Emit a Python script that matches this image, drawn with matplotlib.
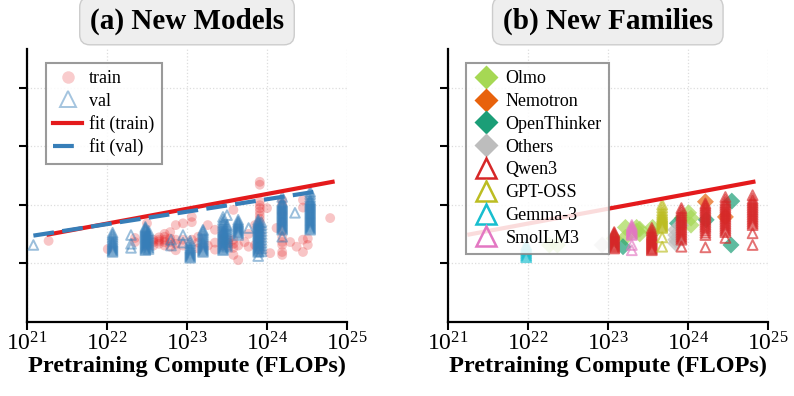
import numpy as np
import matplotlib
matplotlib.use("Agg")
import matplotlib.pyplot as plt
from matplotlib.lines import Line2D

plt.rcParams['font.family'] = ['Liberation Serif', 'DejaVu Serif']
plt.rcParams['mathtext.fontset'] = 'cm'

# --- panel (a): log10(compute) -> scores ---
train_cols = {
    21.27: [1.38],
    22.01: [1.24],
    22.35: [1.36, 1.43],
    22.50: [1.30, 1.68],
    22.58: [1.30, 1.36, 1.40],
    22.65: [1.33, 1.37, 1.40, 1.44],
    22.72: [1.30, 1.36, 1.40, 1.45, 1.50],
    22.79: [1.28, 1.36, 1.42, 1.53],
    22.86: [1.22, 1.33, 1.40, 1.65],
    22.95: [1.30, 1.40, 1.68],
    23.06: [1.40, 1.70, 1.79],
    23.14: [1.25, 1.35, 1.45],
    23.26: [1.30, 1.65],
    23.35: [1.23, 1.35, 1.57],
    23.45: [1.30, 1.40, 1.48],
    23.52: [1.28, 1.34, 1.40],
    23.58: [1.14, 1.26, 1.33, 1.40, 1.91],
    23.64: [1.05, 1.30],
    23.72: [1.36],
    23.77: [1.28, 1.50],
    23.85: [1.31, 1.65],
    23.91: [1.22, 1.30, 1.40, 1.50, 1.60, 1.70, 1.76, 1.82, 1.88, 1.94, 1.99, 2.05, 2.34, 2.39],
    24.00: [1.94],
    24.04: [1.17],
    24.12: [1.60],
    24.19: [1.14, 1.19, 1.31, 1.36, 1.45, 1.55, 1.70, 1.85, 2.00, 2.08],
    24.29: [1.36],
    24.37: [1.28],
    24.45: [1.19, 1.40, 1.95, 2.08],
    24.51: [1.31, 1.42],
    24.79: [1.77],
}

val_cols = {
    21.08: [1.31],
    22.07: [1.19, 1.21, 1.23, 1.25, 1.27, 1.29, 1.31, 1.33, 1.35, 1.37, 1.40, 1.43, 1.46, 1.49, 1.52],
    22.30: [1.26, 1.33, 1.48],
    22.48: [1.22, 1.24, 1.26, 1.28, 1.30, 1.32, 1.34, 1.36, 1.38, 1.40, 1.42, 1.44, 1.46,
            1.48, 1.50, 1.52, 1.54, 1.56, 1.58, 1.60, 1.62],
    22.52: [1.24, 1.27, 1.30, 1.33, 1.36, 1.39, 1.42, 1.45, 1.48, 1.51, 1.55],
    22.80: [1.30, 1.40],
    22.95: [1.35, 1.48],
    23.04: [1.09, 1.11, 1.13, 1.15, 1.17, 1.19, 1.21, 1.23, 1.25, 1.27, 1.30, 1.34, 1.38],
    23.20: [1.19, 1.21, 1.23, 1.25, 1.27, 1.29, 1.31, 1.33, 1.35, 1.37, 1.40, 1.43, 1.46,
            1.49, 1.52, 1.55, 1.57],
    23.45: [1.22, 1.24, 1.26, 1.28, 1.30, 1.32, 1.34, 1.36, 1.38, 1.40, 1.42, 1.44, 1.46,
            1.48, 1.50, 1.52, 1.54, 1.56, 1.58, 1.61, 1.64, 1.67, 1.70, 1.74, 1.79],
    23.50: [1.28, 1.31, 1.35, 1.38, 1.42, 1.46, 1.50, 1.54, 1.58, 1.62, 1.65, 1.82],
    23.64: [1.48, 1.51, 1.53, 1.55, 1.57, 1.59, 1.61, 1.63, 1.65, 1.67, 1.69, 1.71, 1.74],
    23.77: [1.60],
    23.89: [1.12, 1.19, 1.21, 1.23, 1.25, 1.27, 1.29, 1.31, 1.33, 1.35, 1.37, 1.39, 1.41,
            1.43, 1.45, 1.47, 1.49, 1.51, 1.53, 1.55, 1.57, 1.59, 1.61, 1.63, 1.65, 1.67,
            1.69, 1.71, 1.74],
    23.93: [1.20, 1.25, 1.30, 1.35, 1.40, 1.45, 1.50, 1.55, 1.60, 1.65, 1.70],
    24.19: [1.45, 1.57, 1.59, 1.61, 1.63, 1.65, 1.67, 1.69, 1.71, 1.73, 1.75, 1.77, 1.79,
            1.81, 1.83, 1.85, 1.87, 1.89, 1.91, 1.93, 1.95, 1.97, 1.99, 2.01, 2.03, 2.05, 2.13],
    24.35: [1.86],
    24.54: [1.57, 1.59, 1.61, 1.63, 1.65, 1.67, 1.69, 1.71, 1.73, 1.75, 1.77, 1.79, 1.81,
            1.83, 1.85, 1.87, 1.89, 1.91, 1.93, 1.95, 1.97, 1.99, 2.01, 2.03, 2.05, 2.07,
            2.09, 2.13, 2.18, 2.22],
}

fit_train_x = [21.27, 24.82]
fit_train_y = [1.49, 2.39]
fit_val_x = [21.08, 24.60]
fit_val_y = [1.47, 2.22]

# --- panel (b): new families ---
diamond_families = ['Olmo', 'Nemotron', 'OpenThinker', 'Others']
triangle_families = ['Qwen3', 'GPT-OSS', 'Gemma-3', 'SmolLM3']
family_colors = {
    'Olmo': '#a6d854', 'Nemotron': '#e8620c', 'OpenThinker': '#1b9e77',
    'Others': '#bdbdbd', 'Qwen3': '#d62728', 'GPT-OSS': '#bcbd22',
    'Gemma-3': '#17becf', 'SmolLM3': '#e377c2',
}
family_cols = {
    'Olmo': {22.27: [1.31], 22.37: [1.31], 23.08: [1.42], 23.22: [1.44, 1.61],
             23.36: [1.55, 1.61], 23.40: [1.50, 1.58], 23.56: [1.52, 1.61],
             23.93: [1.77], 24.01: [1.86], 24.04: [1.65, 1.77]},
    'Nemotron': {24.22: [2.05], 24.47: [1.79]},
    'OpenThinker': {23.19: [1.28], 23.87: [1.68], 24.23: [1.74], 24.54: [1.31],
                    24.55: [2.06]},
    'Others': {22.93: [1.31], 23.85: [1.34, 1.40, 1.48, 1.57], 23.91: [1.65]},
    'Qwen3': {23.08: [1.25, 1.27, 1.29, 1.31, 1.33, 1.35, 1.37, 1.39, 1.41, 1.43, 1.45,
                      1.47, 1.49, 1.51, 1.53],
              23.55: [1.22, 1.24, 1.26, 1.28, 1.30, 1.32, 1.34, 1.36, 1.38, 1.40, 1.42,
                      1.44, 1.46, 1.48, 1.50, 1.53, 1.56, 1.60],
              23.92: [1.28, 1.40, 1.43, 1.46, 1.49, 1.52, 1.55, 1.58, 1.61, 1.64, 1.67,
                      1.70, 1.73, 1.76, 1.79, 1.82, 1.86, 1.90, 1.94],
              24.22: [1.27, 1.48, 1.52, 1.56, 1.60, 1.63, 1.66, 1.69, 1.72, 1.75, 1.78,
                      1.81, 1.84, 1.87, 1.90, 1.93, 1.96, 1.99, 2.02],
              24.47: [1.43, 1.53, 1.56, 1.59, 1.62, 1.65, 1.68, 1.71, 1.74, 1.77, 1.80,
                      1.83, 1.86, 1.89, 1.92, 1.95, 1.98, 2.01, 2.04, 2.08, 2.13],
              24.81: [1.31, 1.51, 1.65, 1.68, 1.71, 1.74, 1.77, 1.80, 1.83, 1.86, 1.89,
                      1.92, 1.95, 1.98, 2.01, 2.04, 2.07, 2.10, 2.16]},
    'GPT-OSS': {23.68: [1.28, 1.44, 1.60, 1.62, 1.64, 1.66, 1.68, 1.70, 1.72, 1.74, 1.76,
                        1.78, 1.80, 1.83, 1.86, 1.90, 1.95, 2.00]},
    'Gemma-3': {21.98: [1.10, 1.13, 1.16, 1.19, 1.22, 1.25, 1.28, 1.31]},
    'SmolLM3': {23.30: [1.22, 1.31, 1.48, 1.50, 1.52, 1.54, 1.56, 1.58, 1.60, 1.62, 1.65]},
}


def flatten(cols):
    xs, ys = [], []
    for c, vals in cols.items():
        xs += [10 ** c] * len(vals)
        ys += vals
    return np.array(xs), np.array(ys)


def style_axes(ax, title):
    ax.set_xscale('log')
    ax.set_xlim(1e21, 1e25)
    ax.set_ylim(0, 4.66)
    ax.set_xticks([1e21, 1e22, 1e23, 1e24, 1e25])
    ax.minorticks_off()
    ax.set_yticks([1, 2, 3, 4])
    ax.set_yticklabels([])
    ax.tick_params(axis='both', length=6, width=1.5, labelsize=17)
    ax.tick_params(axis='x', pad=2)
    for s in ['top', 'right']:
        ax.spines[s].set_visible(False)
    for s in ['left', 'bottom']:
        ax.spines[s].set_linewidth(1.6)
    ax.grid(True, linestyle=':', color='#dddddd', linewidth=0.9)
    ax.set_axisbelow(True)
    ax.set_xlabel('Pretraining Compute (FLOPs)', fontsize=17.5, fontweight='bold', labelpad=0)
    ax.set_title(title, fontsize=21, fontweight='bold', pad=15,
                 bbox=dict(boxstyle='round,pad=0.35', facecolor='#eeeeee', edgecolor='#cccccc'))


fig = plt.figure(figsize=(7.94, 3.96), dpi=100)
ax1 = fig.add_axes([0.034, 0.188, 0.403, 0.688])
ax2 = fig.add_axes([0.564, 0.188, 0.403, 0.688])

red = '#e41a1c'
blue = '#377eb8'

# (a) New Models
tx, ty = flatten(train_cols)
ax1.scatter(tx, ty, s=50, color=red, alpha=0.25, edgecolors='none', zorder=2)
vx, vy = flatten(val_cols)
ax1.scatter(vx, vy, s=48, marker='^', facecolors='none', edgecolors=blue,
            linewidths=1.4, alpha=0.5, zorder=3)
ax1.plot([10 ** v for v in fit_train_x], fit_train_y, color=red, lw=3, zorder=4)
ax1.plot([10 ** v for v in fit_val_x], fit_val_y, color=blue, lw=3,
         dashes=(5, 2), zorder=5)
style_axes(ax1, '(a) New Models')
h1 = [
    Line2D([], [], ls='none', marker='o', markersize=9, color=red, alpha=0.22, markeredgecolor='none'),
    Line2D([], [], ls='none', marker='^', markersize=12, markerfacecolor='none',
           markeredgecolor=blue, markeredgewidth=1.4, alpha=0.45),
    Line2D([], [], color=red, lw=3),
    Line2D([], [], color=blue, lw=3, dashes=(5, 2)),
]
leg1 = ax1.legend(h1, ['train', 'val', 'fit (train)', 'fit (val)'], loc='upper left',
                  bbox_to_anchor=(0.059, 0.949), borderaxespad=0, fontsize=13,
                  fancybox=False, edgecolor='#888888', framealpha=0.85,
                  handlelength=1.6, handletextpad=0.4, labelspacing=0.3)
leg1.get_frame().set_linewidth(1.5)

# (b) New Families
ax2.plot([10 ** v for v in fit_train_x], fit_train_y, color=red, lw=3, zorder=4)
handles = []
for fam in diamond_families:
    fx, fy = flatten(family_cols[fam])
    ax2.scatter(fx, fy, s=75, marker='D', color=family_colors[fam], alpha=0.7,
                edgecolors='none', zorder=3)
    handles.append(Line2D([], [], ls='none', marker='D', markersize=12,
                          color=family_colors[fam], markeredgecolor='none'))
for fam in triangle_families:
    fx, fy = flatten(family_cols[fam])
    ax2.scatter(fx, fy, s=50, marker='^', facecolors='none', edgecolors=family_colors[fam],
                linewidths=1.4, alpha=0.65, zorder=3)
    handles.append(Line2D([], [], ls='none', marker='^', markersize=15, markerfacecolor='none',
                          markeredgecolor=family_colors[fam], markeredgewidth=1.8))
style_axes(ax2, '(b) New Families')
leg2 = ax2.legend(handles, diamond_families + triangle_families, loc='upper left',
                  bbox_to_anchor=(0.056, 0.949), borderaxespad=0, fontsize=13,
                  fancybox=False, edgecolor='#888888', framealpha=0.85,
                  handlelength=1.4, handletextpad=0.4, labelspacing=0.32)
leg2.get_frame().set_linewidth(1.5)
leg2.set_zorder(6)

fig.savefig('out.png', dpi=100)
